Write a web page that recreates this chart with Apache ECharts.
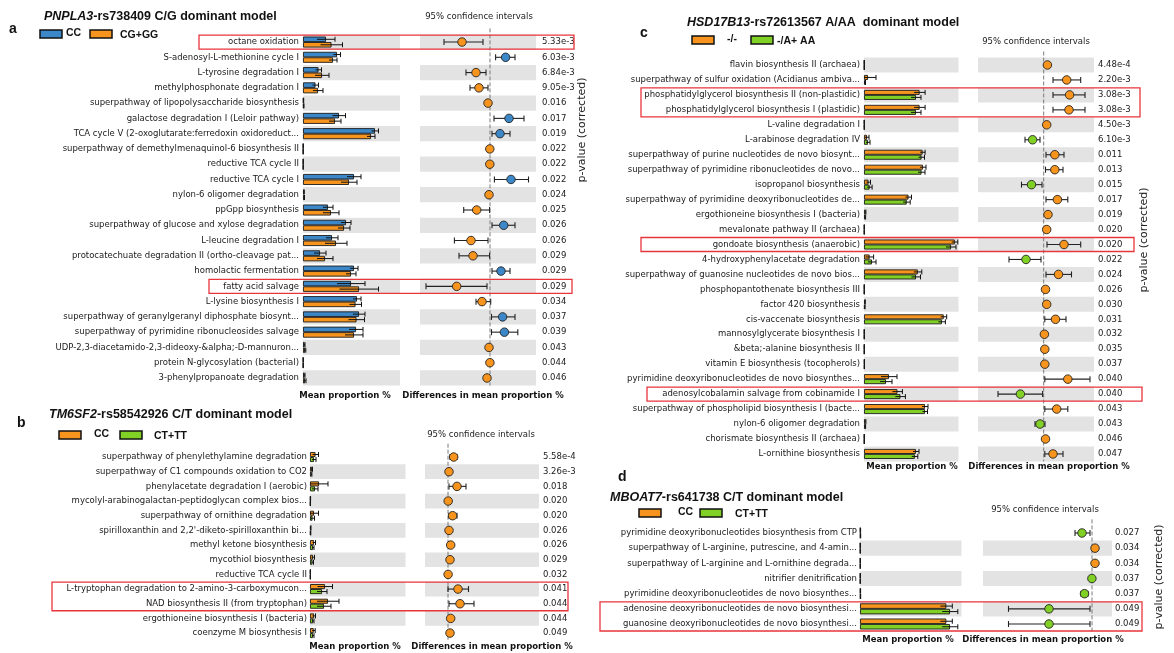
<!DOCTYPE html>
<html><head><meta charset="utf-8">
<script src="https://cdn.jsdelivr.net/npm/echarts/dist/echarts.min.js"></script>
<style>html,body{margin:0;padding:0;background:#fff}#c{width:1174px;height:653px}</style>
</head><body><div id="c"></div>
<script>
// ---------------- Panel a: PNPLA3 ----------------
const aCats = ['octane oxidation','S-adenosyl-L-methionine cycle I','L-tyrosine degradation I','methylphosphonate degradation I','superpathway of lipopolysaccharide biosynthesis','galactose degradation I (Leloir pathway)','TCA cycle V (2-oxoglutarate:ferredoxin oxidoreduct...','superpathway of demethylmenaquinol-6 biosynthesis II','reductive TCA cycle II','reductive TCA cycle I','nylon-6 oligomer degradation','ppGpp biosynthesis','superpathway of glucose and xylose degradation','L-leucine degradation I','protocatechuate degradation II (ortho-cleavage pat...','homolactic fermentation','fatty acid salvage','L-lysine biosynthesis I','superpathway of geranylgeranyl diphosphate biosynt...','superpathway of pyrimidine ribonucleosides salvage','UDP-2,3-diacetamido-2,3-dideoxy-&alpha;-D-mannuron...','protein N-glycosylation (bacterial)','3-phenylpropanoate degradation'];
const aG1 = [0.23,0.34,0.155,0.125,0.005,0.36,0.72,0.002,0.002,0.51,0.01,0.25,0.43,0.29,0.17,0.51,0.48,0.54,0.56,0.53,0.015,0.002,0.015];
const aG2 = [0.285,0.30,0.19,0.15,0.007,0.32,0.68,0.002,0.002,0.46,0.012,0.28,0.41,0.33,0.22,0.48,0.56,0.525,0.535,0.51,0.02,0.002,0.02];
const aE1 = [0.09,0.035,0.03,0.03,0.002,0.065,0.035,0.001,0.001,0.07,0.003,0.05,0.05,0.06,0.06,0.04,0.14,0.04,0.06,0.07,0.005,0.001,0.005];
const aE2 = [0.11,0.04,0.07,0.05,0.003,0.06,0.04,0.001,0.001,0.08,0.003,0.08,0.06,0.11,0.08,0.05,0.195,0.06,0.08,0.09,0.008,0.001,0.01];
const aDiff = [-0.28,0.156,-0.14,-0.11,-0.02,0.19,0.10,-0.002,-0.002,0.21,-0.01,-0.133,0.137,-0.19,-0.17,0.11,-0.333,-0.08,0.126,0.144,-0.01,-0.001,-0.03];
const aLo = [-0.46,0.056,-0.24,-0.20,-0.03,0.04,0.02,-0.005,-0.004,0.044,-0.02,-0.263,0.02,-0.356,-0.31,0.02,-0.64,-0.14,0.015,0.015,-0.02,-0.002,-0.05];
const aHi = [-0.07,0.25,-0.04,-0.02,-0.01,0.34,0.20,0.001,0.0,0.385,0.0,-0.004,0.25,-0.02,-0.004,0.20,-0.03,0.007,0.25,0.278,0.0,0.0,-0.01];
const aP = ['5.33e-3','6.03e-3','6.84e-3','9.05e-3','0.016','0.017','0.019','0.022','0.022','0.022','0.024','0.025','0.026','0.026','0.029','0.029','0.029','0.034','0.037','0.039','0.043','0.044','0.046'];
const aHL = [[0,0],[16,16]];

// ---------------- Panel b: TM6SF2 ----------------
const bCats = ['superpathway of phenylethylamine degradation','superpathway of C1 compounds oxidation to CO2','phenylacetate degradation I (aerobic)','mycolyl-arabinogalactan-peptidoglycan complex bios...','superpathway of ornithine degradation',"spirilloxanthin and 2,2'-diketo-spirilloxanthin bi...",'methyl ketone biosynthesis','mycothiol biosynthesis','reductive TCA cycle II','L-tryptophan degradation to 2-amino-3-carboxymucon...','NAD biosynthesis II (from tryptophan)','ergothioneine biosynthesis I (bacteria)','coenzyme M biosynthesis I'];
const bG1 = [0.055,0.02,0.09,0.005,0.04,0.008,0.04,0.03,0.004,0.15,0.18,0.04,0.037];
const bG2 = [0.04,0.015,0.05,0.004,0.025,0.006,0.03,0.025,0.004,0.12,0.14,0.03,0.03];
const bE1 = [0.03,0.005,0.09,0.001,0.045,0.002,0.015,0.015,0.001,0.075,0.11,0.015,0.015];
const bE2 = [0.02,0.004,0.03,0.001,0.02,0.002,0.01,0.01,0.001,0.05,0.07,0.01,0.01];
const bDiff = [0.057,0.01,0.09,0.002,0.046,0.01,0.027,0.02,0.001,0.10,0.12,0.027,0.02];
const bLo = [0.02,0.005,0.01,0.0,0.01,0.005,0.01,0.01,-0.002,0.0,0.01,0.01,0.01];
const bHi = [0.09,0.015,0.18,0.004,0.09,0.015,0.04,0.03,0.004,0.205,0.26,0.04,0.03];
const bP = ['5.58e-4','3.26e-3','0.018','0.020','0.020','0.026','0.026','0.029','0.032','0.041','0.044','0.044','0.049'];
const bHL = [[9,10]];

// ---------------- Panel c: HSD17B13 ----------------
const cCats = ['flavin biosynthesis II (archaea)','superpathway of sulfur oxidation (Acidianus ambiva...','phosphatidylglycerol biosynthesis II (non-plastidic)','phosphatidylglycerol biosynthesis I (plastidic)','L-valine degradation I','L-arabinose degradation IV','superpathway of purine nucleotides de novo biosynt...','superpathway of pyrimidine ribonucleotides de novo...','isopropanol biosynthesis','superpathway of pyrimidine deoxyribonucleotides de...','ergothioneine biosynthesis I (bacteria)','mevalonate pathway II (archaea)','gondoate biosynthesis (anaerobic)','4-hydroxyphenylacetate degradation','superpathway of guanosine nucleotides de novo bios...','phosphopantothenate biosynthesis III','factor 420 biosynthesis','cis-vaccenate biosynthesis','mannosylglycerate biosynthesis I','&beta;-alanine biosynthesis II','vitamin E biosynthesis (tocopherols)','pyrimidine deoxyribonucleotides de novo biosynthes...','adenosylcobalamin salvage from cobinamide I','superpathway of phospholipid biosynthesis I (bacte...','nylon-6 oligomer degradation','chorismate biosynthesis II (archaea)','L-ornithine biosynthesis'];
const cG1 = [0.003,0.04,0.556,0.556,0.003,0.03,0.586,0.59,0.045,0.445,0.015,0.003,0.908,0.056,0.538,0.003,0.01,0.797,0.003,0.003,0.004,0.25,0.334,0.61,0.015,0.003,0.52];
const cG2 = [0.003,0.01,0.52,0.52,0.003,0.04,0.575,0.575,0.056,0.427,0.012,0.003,0.87,0.08,0.52,0.003,0.008,0.779,0.003,0.003,0.004,0.22,0.364,0.61,0.012,0.003,0.508];
const cE1 = [0.001,0.08,0.055,0.055,0.001,0.02,0.025,0.03,0.02,0.03,0.004,0.001,0.03,0.04,0.04,0.001,0.003,0.03,0.001,0.001,0.001,0.08,0.05,0.03,0.004,0.001,0.03];
const cE2 = [0.001,0.005,0.05,0.05,0.001,0.02,0.03,0.035,0.025,0.035,0.004,0.001,0.05,0.04,0.045,0.001,0.003,0.035,0.001,0.001,0.001,0.06,0.05,0.025,0.004,0.001,0.03];
const cDiff = [0.037,0.23,0.259,0.253,0.03,-0.111,0.111,0.111,-0.122,0.137,0.043,0.03,0.203,-0.177,0.148,0.018,0.03,0.118,0.007,0.011,0.011,0.241,-0.233,0.13,-0.037,0.018,0.093];
const cLo = [0.03,0.093,0.093,0.093,0.025,-0.187,0.023,0.018,-0.222,0.023,0.03,0.025,0.033,-0.347,0.023,0.015,0.025,0.011,0.005,0.008,0.008,0.011,-0.457,0.011,-0.087,0.015,0.011];
const cHi = [0.045,0.37,0.413,0.413,0.035,-0.037,0.203,0.193,-0.017,0.241,0.06,0.035,0.37,-0.027,0.278,0.022,0.035,0.223,0.01,0.014,0.014,0.463,-0.011,0.241,0.013,0.022,0.193];
const cP = ['4.48e-4','2.20e-3','3.08e-3','3.08e-3','4.50e-3','6.10e-3','0.011','0.013','0.015','0.017','0.019','0.020','0.020','0.022','0.024','0.026','0.030','0.031','0.032','0.035','0.037','0.040','0.040','0.043','0.043','0.046','0.047'];
const cHL = [[2,3],[12,12],[22,22]];

// ---------------- Panel d: MBOAT7 ----------------
const dCats = ['pyrimidine deoxyribonucleotides biosynthesis from CTP','superpathway of L-arginine, putrescine, and 4-amin...','superpathway of L-arginine and L-ornithine degrada...','nitrifier denitrification','pyrimidine deoxyribonucleotides de novo biosynthes...','adenosine deoxyribonucleotides de novo biosynthesi...','guanosine deoxyribonucleotides de novo biosynthesi...'];
const dG1 = [0.004,0.003,0.003,0.003,0.004,0.863,0.863];
const dG2 = [0.005,0.003,0.003,0.003,0.005,0.90,0.90];
const dE1 = [0.002,0.001,0.001,0.001,0.002,0.06,0.06];
const dE2 = [0.002,0.001,0.001,0.001,0.002,0.078,0.078];
const dDiff = [-0.10,0.03,0.03,-0.001,-0.075,-0.43,-0.43];
const dLo = [-0.17,0.02,0.02,-0.01,-0.11,-0.835,-0.835];
const dHi = [-0.02,0.04,0.04,0.008,-0.04,-0.02,-0.02];
const dP = ['0.027','0.034','0.034','0.037','0.037','0.049','0.049'];
const dHL = [[5,6]];

// ---------------- text ----------------
const titles = [
  ['PNPLA3','-rs738409 C/G dominant model'],
  ['TM6SF2','-rs58542926 C/T dominant model'],
  ['HSD17B13','-rs72613567 A/AA  dominant model'],
  ['MBOAT7','-rs641738 C/T dominant model']
];
const groupNames = [['CC','CG+GG'],['CC','CT+TT'],['-/-','-/A+ AA'],['CC','CT+TT']];
const letters = ['a','b','c','d'];

// ---------------- styles / layout ----------------
const BLUE = '#3b87c8', ORANGE = '#f7941d', GREEN = '#80d025', GREY = '#e3e3e3';
const FONT = 'DejaVu Sans', TFONT = 'Liberation Sans';
const panels = [
  {cats:aCats,g1:aG1,g2:aG2,e1:aE1,e2:aE2,diff:aDiff,lo:aLo,hi:aHi,p:aP,hl:aHL,col1:BLUE,col2:ORANGE},
  {cats:bCats,g1:bG1,g2:bG2,e1:bE1,e2:bE2,diff:bDiff,lo:bLo,hi:bHi,p:bP,hl:bHL,col1:ORANGE,col2:GREEN},
  {cats:cCats,g1:cG1,g2:cG2,e1:cE1,e2:cE2,diff:cDiff,lo:cLo,hi:cHi,p:cP,hl:cHL,col1:ORANGE,col2:GREEN},
  {cats:dCats,g1:dG1,g2:dG2,e1:dE1,e2:dE2,diff:dDiff,lo:dLo,hi:dHi,p:dP,hl:dHL,col1:ORANGE,col2:GREEN}
];
const layouts = [
  {barL:303,barW:97,difL:420,difW:116,top:34.4,rowH:15.27,barMax:0.97,dMin:-0.70,dMax:0.46,greyFirst:true,bw:5.5,lm:4,pm:6,
   boxX:[[199,574],[209,572]], letter:[9,29], title:[44,17], leg:[40,66,90,120,34], ci:[479,17], mp:[345,483,396], pv:[582,130]},
  {barL:310,barW:95.5,difL:425,difW:114,top:449.7,rowH:14.67,barMax:0.955,dMin:-0.23,dMax:0.91,greyFirst:false,bw:5,lm:3,pm:4,
   boxX:[[52,568]], letter:[17,423], title:[49,415], leg:[59,94,120,154,435], ci:[481,435], mp:[355,492,647], pv:null},
  {barL:864,barW:94.5,difL:978,difW:116,top:57.5,rowH:14.96,barMax:0.945,dMin:-0.657,dMax:0.503,greyFirst:true,bw:5,lm:4,pm:4,
   boxX:[[641,1140],[641,1134],[647,1142]], letter:[640,33], title:[687,23], leg:[692,727,751,777,40], ci:[1036,42], mp:[912,1049,467], pv:[1144,240]},
  {barL:860,barW:101.5,difL:983,difW:129,top:525.4,rowH:15.17,barMax:1.015,dMin:-1.09,dMax:0.20,greyFirst:false,bw:5.5,lm:3,pm:3,
   boxX:[[600,1142]], letter:[618,477], title:[610,498], leg:[639,678,700,735,513], ci:[1045,510], mp:[908,1043,640], pv:[1159,577]}
];

const grid = [], xAxis = [], yAxis = [], series = [], graphic = [];

panels.forEach((P, k) => {
  const L = layouts[k];
  const n = P.cats.length;
  const h = n * L.rowH;
  const bi = 2*k, di = 2*k+1;
  const bands = L.greyFirst ? [GREY, 'rgba(255,255,255,0)'] : ['rgba(255,255,255,0)', GREY];
  grid.push({left:L.barL, top:L.top, width:L.barW, height:h, outerBoundsMode:'none'});
  grid.push({left:L.difL, top:L.top, width:L.difW, height:h, outerBoundsMode:'none'});
  xAxis.push({type:'value', gridIndex:bi, min:0, max:L.barMax, show:false});
  xAxis.push({type:'value', gridIndex:di, min:L.dMin, max:L.dMax, show:false});
  yAxis.push({type:'category', gridIndex:bi, data:P.cats, inverse:true, position:'left',
    axisLine:{show:false}, axisTick:{show:false}, splitLine:{show:false},
    splitArea:{show:true, interval:0, areaStyle:{color:bands}},
    axisLabel:{interval:0, margin:L.lm, fontSize:8.5, fontFamily:FONT, color:'#1a1a1a'}});
  yAxis.push({type:'category', gridIndex:di, data:P.cats, inverse:true, position:'right',
    axisLine:{show:false}, axisTick:{show:false}, splitLine:{show:false},
    splitArea:{show:true, interval:0, areaStyle:{color:bands}},
    axisLabel:{interval:0, margin:L.pm, fontSize:8.5, fontFamily:FONT, color:'#1a1a1a', align:'left',
      formatter:(v, i) => P.p[i]}});

  // bars
  [[P.g1, P.col1], [P.g2, P.col2]].forEach(([vals, col]) => {
    series.push({type:'bar', xAxisIndex:bi, yAxisIndex:bi, data:vals, barWidth:L.bw, barGap:'0%',
      itemStyle:{color:col, borderColor:'#1a1a1a', borderWidth:0.9}, silent:true, z:2});
  });
  // error bars on mean proportions
  [[P.g1, P.e1, -1], [P.g2, P.e2, 1]].forEach(([vals, errs, side]) => {
    series.push({type:'custom', xAxisIndex:bi, yAxisIndex:bi, z:3, silent:true,
      data: vals.map((v, i) => [i, v, errs[i]]),
      renderItem:(params, api) => {
        const i = api.value(0), v = api.value(1), e = api.value(2);
        const a = api.coord([Math.max(0, v - e), i]), b = api.coord([v + e, i]);
        const y = a[1] + side * L.bw / 2;
        const st = {stroke:'#111', lineWidth:1};
        return {type:'group', children:[
          {type:'line', shape:{x1:a[0], y1:y, x2:b[0], y2:y}, style:st},
          {type:'line', shape:{x1:b[0], y1:y-2.5, x2:b[0], y2:y+2.5}, style:st}
        ]};
      }});
  });
  // zero reference line
  series.push({type:'custom', xAxisIndex:di, yAxisIndex:di, z:1, silent:true, data:[[0, 0]],
    renderItem:(params, api) => {
      const x = api.coord([0, 0])[0];
      const cs = params.coordSys;
      return {type:'line', shape:{x1:x, y1:cs.y - 6, x2:x, y2:cs.y + cs.height},
        style:{stroke:'#7a7a7a', lineWidth:1, lineDash:[4, 2]}};
    }});
  // confidence intervals
  series.push({type:'custom', xAxisIndex:di, yAxisIndex:di, z:3, silent:true,
    data: P.lo.map((lo, i) => [i, lo, P.hi[i]]),
    renderItem:(params, api) => {
      const i = api.value(0);
      const a = api.coord([api.value(1), i]), b = api.coord([api.value(2), i]);
      const st = {stroke:'#222', lineWidth:1.1};
      return {type:'group', children:[
        {type:'line', shape:{x1:a[0], y1:a[1], x2:b[0], y2:b[1]}, style:st},
        {type:'line', shape:{x1:a[0], y1:a[1]-3, x2:a[0], y2:a[1]+3}, style:st},
        {type:'line', shape:{x1:b[0], y1:b[1]-3, x2:b[0], y2:b[1]+3}, style:st}
      ]};
    }});
  // difference points
  series.push({type:'scatter', xAxisIndex:di, yAxisIndex:di, z:4, silent:true, symbolSize:8.5,
    data: P.diff.map((d, i) => [d, i]),
    itemStyle:{color:(p) => p.value[0] >= 0 ? P.col1 : P.col2, borderColor:'#222', borderWidth:0.9, opacity:1}});

  // texts
  graphic.push({type:'text', x:L.letter[0], y:L.letter[1], style:{text:letters[k], fontSize:14, fontWeight:'bold', fontFamily:TFONT, fill:'#111', verticalAlign:'middle'}});
  graphic.push({type:'text', x:L.title[0], y:L.title[1], style:{text:'{i|' + titles[k][0] + '}' + titles[k][1],
    fontSize:12.5, fontWeight:'bold', fontFamily:TFONT, fill:'#111', verticalAlign:'middle',
    rich:{i:{fontStyle:'italic', fontWeight:'bold', fontSize:12.5, fontFamily:TFONT, fill:'#111'}}}});
  const lg = L.leg;
  graphic.push({type:'rect', shape:{x:lg[0], y:lg[4]-4, width:22, height:8}, style:{fill:P.col1, stroke:'#111', lineWidth:1.5}});
  graphic.push({type:'text', x:lg[1], y:lg[4]-1, style:{text:groupNames[k][0], fontSize:10.5, fontWeight:'bold', fontFamily:TFONT, fill:'#111', verticalAlign:'middle'}});
  graphic.push({type:'rect', shape:{x:lg[2], y:lg[4]-4, width:22, height:8}, style:{fill:P.col2, stroke:'#111', lineWidth:1.5}});
  graphic.push({type:'text', x:lg[3], y:lg[4]+1, style:{text:groupNames[k][1], fontSize:10.5, fontWeight:'bold', fontFamily:TFONT, fill:'#111', verticalAlign:'middle'}});
  graphic.push({type:'text', x:L.ci[0], y:L.ci[1], style:{text:'95% confidence intervals', fontSize:8.5, fontFamily:FONT, fill:'#222', align:'center', verticalAlign:'middle'}});
  graphic.push({type:'text', x:L.mp[0], y:L.mp[2], style:{text:'Mean proportion %', fontSize:8.5, fontWeight:'bold', fontFamily:FONT, fill:'#111', align:'center', verticalAlign:'middle'}});
  graphic.push({type:'text', x:L.mp[1], y:L.mp[2], style:{text:'Differences in mean proportion %', fontSize:8.5, fontWeight:'bold', fontFamily:FONT, fill:'#111', align:'center', verticalAlign:'middle'}});
  if (L.pv) graphic.push({type:'text', x:L.pv[0], y:L.pv[1], rotation:Math.PI/2, style:{text:'p-value (corrected)', fontSize:11, fontFamily:FONT, fill:'#222', align:'center', verticalAlign:'middle'}});
});

const chart = echarts.init(document.getElementById('c'), null, {renderer:'canvas'});
chart.setOption({animation:false, backgroundColor:'#fff', grid, xAxis, yAxis, series});

// highlight boxes around selected rows, positioned through the category axes
panels.forEach((P, k) => {
  const L = layouts[k];
  P.hl.forEach(([r0, r1], j) => {
    const y0 = chart.convertToPixel({yAxisIndex:2*k}, r0) - 7;
    const y1 = chart.convertToPixel({yAxisIndex:2*k}, r1) + 7;
    const [x0, x1] = L.boxX[j];
    graphic.push({type:'rect', z:10, shape:{x:x0, y:y0, width:x1 - x0, height:y1 - y0},
      style:{fill:'rgba(0,0,0,0)', stroke:'#e8353c', lineWidth:1.3}});
  });
});
chart.setOption({graphic});
</script>
</body></html>
